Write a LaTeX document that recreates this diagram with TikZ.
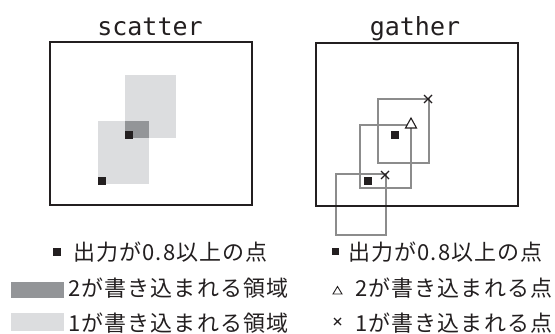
\documentclass[tikz,border=0pt]{standalone}
\usepackage{fontspec}
\newfontfamily\jpfont[LetterSpace=5]{Noto Sans CJK JP}
\newfontfamily\monofont{DejaVu Sans Mono}
\definecolor{darkfill}{HTML}{939598}
\definecolor{lightfill}{HTML}{DCDDDF}
\definecolor{outl}{HTML}{8C8C8C}
\definecolor{ink}{HTML}{231F20}
\tikzset{
  frame/.style={draw=ink, line width=1.8pt},
  title/.style={font=\monofont\fontsize{25}{25}\selectfont, anchor=base, inner sep=0pt, text=ink},
  legtext/.style={font=\jpfont\fontsize{22}{22}\selectfont, anchor=base west, inner sep=0pt, text=ink},
  dot/.style={fill=ink},
  win/.style={draw=outl, line width=1.6pt},
  cross/.style={draw=ink, line width=1.3pt},
}
\begin{document}
\begin{tikzpicture}[x=1pt,y=-1pt]
\useasboundingbox (0,0) rectangle (555,334);
% ---------- scatter ----------
\node[title] (t1) at (150,36) {scatter};
\fill[lightfill] (125,75) rectangle (176,138);
\fill[lightfill] (98,121) rectangle (149,184);
\fill[darkfill] (125,121) rectangle (149,138);
\fill[dot] (125,131) rectangle (133,139);
\fill[dot] (98,177) rectangle (106,185);
\draw[frame] (50,42) rectangle (252,205);
% ---------- gather ----------
\node[title] (t2) at (415,36) {gather};
\draw[win] (378,99) rectangle (429,163);
\draw[win] (360,125) rectangle (411,188);
\draw[win] (336,235) -- (336,174) -- (386,174) -- (386,235) -- cycle;
\fill[dot] (391,131) rectangle (399,139);
\fill[dot] (364,177) rectangle (372,185);
\draw[cross] (424,95) -- (432,103) (424,103) -- (432,95);
\draw[cross] (381,171) -- (389,179) (381,179) -- (389,171);
\fill[white] (411,118) -- (416.5,128) -- (405.5,128) -- cycle;
\draw[ink, line width=1.1pt, line join=miter] (411,118) -- (416.5,128) -- (405.5,128) -- cycle;
\draw[frame] (316,43) rectangle (518,206);
% ---------- legend left ----------
\fill[dot] (53,248) rectangle (61,256);
\node[legtext] (l1) at (73,261) {出力が0.8以上の点};
\fill[darkfill] (11,282) rectangle (64,298);
\node[legtext] (l2) at (68,297) {2が書き込まれる領域};
\fill[lightfill] (11,313) rectangle (64,331);
\node[legtext] (l3) at (68,331) {1が書き込まれる領域};
% ---------- legend right ----------
\fill[dot] (332,248) rectangle (339,255);
\node[legtext] (r1) at (348,261) {出力が0.8以上の点};
\draw[ink, line width=0.9pt] (337.5,286.5) -- (342,294) -- (333,294) -- cycle;
\node[legtext] (r2) at (355,297) {2が書き込まれる点};
\draw[ink, line width=1.1pt] (334,318) -- (341,325) (334,325) -- (341,318);
\node[legtext] (r3) at (355,331) {1が書き込まれる点};
\end{tikzpicture}
\end{document}
